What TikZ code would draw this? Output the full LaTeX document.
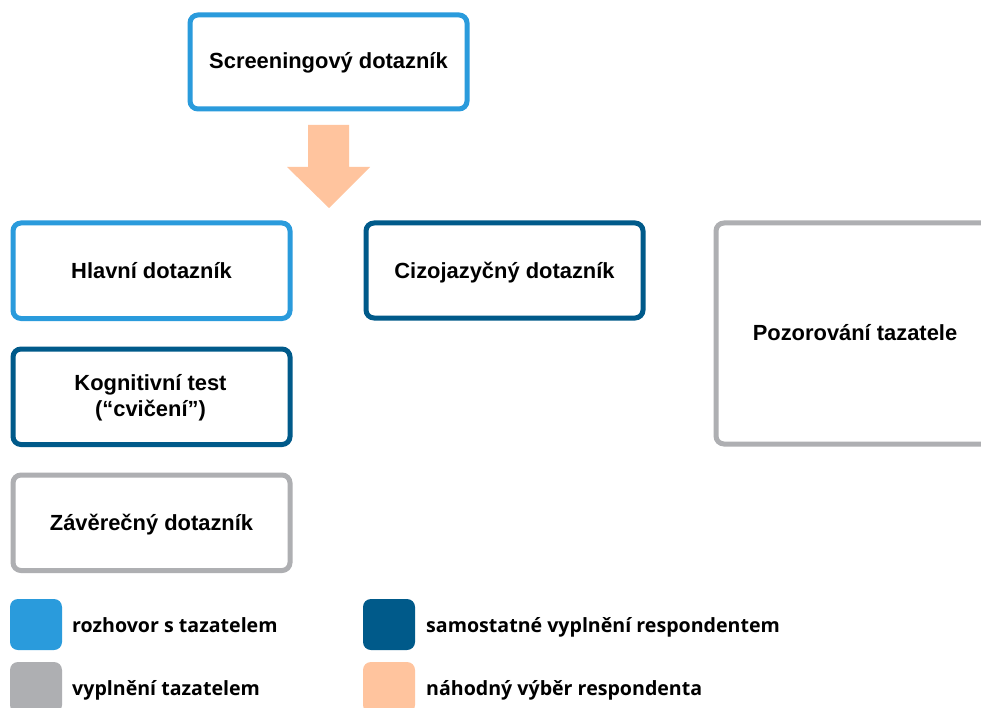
\documentclass[tikz,border=0pt]{standalone}
\usepackage{fontspec}
\setmainfont{Liberation Sans}
\newfontfamily\legfont{Open Sans}
\definecolor{lblue}{HTML}{2A9BDC}
\definecolor{dblue}{HTML}{005A8A}
\definecolor{lgray}{HTML}{AEAFB2}
\definecolor{peach}{HTML}{FFC49E}
\tikzset{
  boxst/.style={line width=5pt, rounded corners=8pt, fill=white},
  boxtxt/.style={anchor=base, inner sep=0pt, font=\fontsize{21.9}{26}\selectfont\bfseries, align=center},
  legsq/.style={rounded corners=8pt},
  legtxt/.style={anchor=base west, inner sep=0pt, font=\fontsize{19.6}{24}\legfont\bfseries},
}
\begin{document}
\begin{tikzpicture}[x=1pt,y=-1pt]
\clip (0,0) rectangle (981,708);
\fill[white] (0,0) rectangle (981,708);
% boxes
\draw[boxst, draw=lblue] (190,15) rectangle (467,109);
\node[boxtxt] (t-scr) at (328.5,69) {Screeningový dotazník};
% arrow
\fill[peach] (308,125) -- (349,125) -- (349,167) -- (370,167) -- (329,208) -- (287,167) -- (308,167) -- cycle;
\draw[boxst, draw=lblue] (13,223) rectangle (290,318.5);
\node[boxtxt] (t-hl) at (151.5,278) {Hlavní dotazník};
\draw[boxst, draw=dblue] (366,223) rectangle (643,318);
\node[boxtxt] (t-ci) at (504.5,278) {Cizojazyčný dotazník};
\draw[boxst, draw=dblue] (13,349) rectangle (290,444.5);
\node[boxtxt, anchor=north] (t-kog) at (150.5,374.5) {Kognitivní test\\(“cvičení”)};
\draw[boxst, draw=lgray] (13,475) rectangle (290,570.5);
\node[boxtxt] (t-za) at (151.5,530) {Závěrečný dotazník};
\draw[boxst, draw=lgray] (716,223) rectangle (994,444);
\node[boxtxt] (t-po) at (855,340) {Pozorování tazatele};
% legend
\fill[legsq, lblue] (10,599) rectangle (62,650);
\fill[legsq, lgray] (10,662) rectangle (62,713);
\fill[legsq, dblue] (363,599) rectangle (415,650);
\fill[legsq, peach] (363,662) rectangle (415,713);
\node[legtxt] (l1) at (72,632) {rozhovor s tazatelem};
\node[legtxt] (l2) at (72,695) {vyplnění tazatelem};
\node[legtxt] (l3) at (426,632) {samostatné vyplnění respondentem};
\node[legtxt] (l4) at (426,695) {náhodný výběr respondenta};
\end{tikzpicture}
\end{document}
